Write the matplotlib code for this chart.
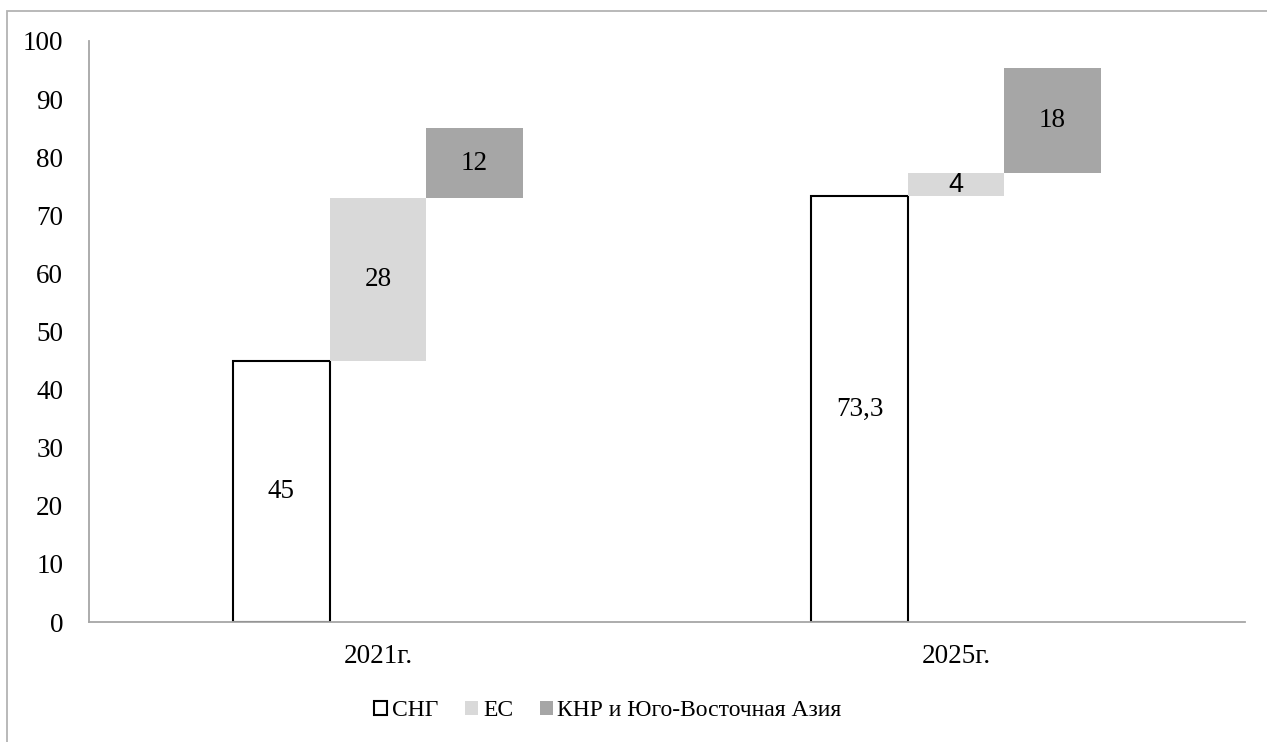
import matplotlib.pyplot as plt
from matplotlib.patches import Rectangle

plt.rcParams['font.family'] = ['Liberation Serif', 'DejaVu Serif']

# данные
years = ["2021г.", "2025г."]
sng = [45, 73.3]
es = [28, 4]
asia = [12, 18]
sng_labels = ["45", "73,3"]
es_labels = ["28", "4"]
asia_labels = ["12", "18"]

fig = plt.figure(figsize=(12.67, 7.42), dpi=100)
ax = fig.add_axes([89 / 1267, 1 - 622 / 742, (1245 - 89) / 1267, 581 / 742])

# рамка вокруг диаграммы
fig.patches.append(Rectangle((7 / 1267, -0.1), 1.2, 1 - 11 / 742 + 0.1, transform=fig.transFigure,
                             fill=False, edgecolor="#b3b3b3", linewidth=1.3))

x = list(range(len(years)))
w = 0.167
es_bottom = sng
asia_bottom = [s + e for s, e in zip(sng, es)]

b1 = ax.bar([i - w for i in x], sng, width=w, color="white", edgecolor="black", linewidth=1.5, label="СНГ")
b2 = ax.bar(x, es, width=w, bottom=es_bottom, color="#d9d9d9", linewidth=0, label="ЕС")
b3 = ax.bar([i + w for i in x], asia, width=w, bottom=asia_bottom, color="#a6a6a6", linewidth=0,
            label="КНР и Юго-Восточная Азия")

fs = 19.5
for i in x:
    ax.text(i - w, sng[i] / 2, sng_labels[i], ha="center", va="center", fontsize=fs)
    fam = ["Liberation Sans"] if es_labels[i] == "4" else ["Liberation Serif"]
    ax.text(i, es_bottom[i] + es[i] / 2, es_labels[i], ha="center", va="center", fontsize=fs, family=fam)
    ax.text(i + w, asia_bottom[i] + asia[i] / 2, asia_labels[i], ha="center", va="center", fontsize=fs)

ax.set_xlim(-0.5, 1.5)
ax.set_ylim(0, 100)
ax.set_yticks(range(0, 101, 10))
ax.set_xticks(x)
ax.set_xticklabels(years)
ax.tick_params(axis="both", length=0, labelsize=fs)
ax.tick_params(axis="y", pad=18.5)
ax.tick_params(axis="x", pad=16)
for s in ["top", "right"]:
    ax.spines[s].set_visible(False)
for s in ["left", "bottom"]:
    ax.spines[s].set_color("#a6a6a6")
    ax.spines[s].set_linewidth(1.3)

fig.legend(handles=[b1, b2, b3], loc="center", bbox_to_anchor=(608 / 1267, 1 - 711 / 742), ncol=3,
           frameon=False, fontsize=17, handlelength=0.56, handleheight=0.56, handletextpad=0.2,
           columnspacing=1.12)

fig.savefig("out.png", dpi=100)
